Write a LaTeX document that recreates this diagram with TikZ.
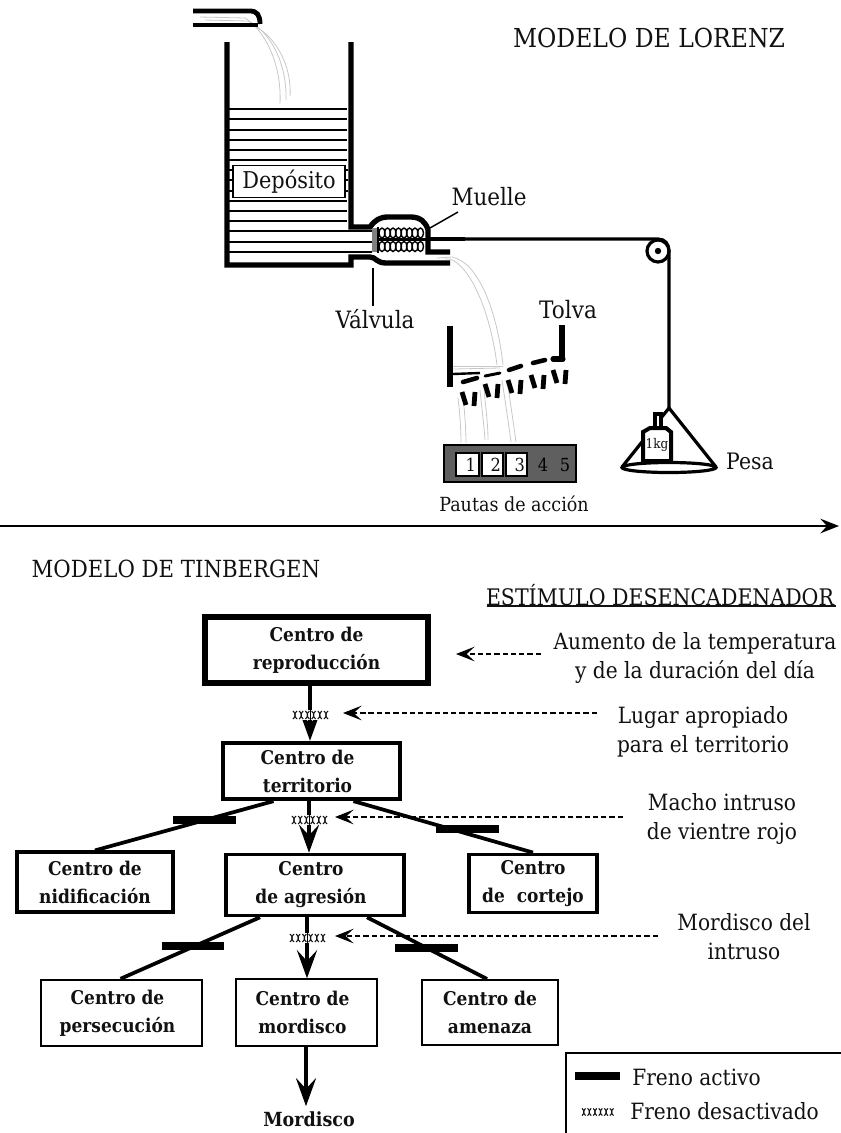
\documentclass[tikz,border=0pt]{standalone}
\usepackage{fontspec}
\setmainfont{DejaVu Serif}[FakeStretch=0.9]
\usetikzlibrary{arrows.meta,calc}
\definecolor{ink}{HTML}{111111}
\definecolor{water}{HTML}{C8C8C8}
\definecolor{panel}{HTML}{5F5F5F}
\newcommand{\shl}{\hspace*{6pt}}
\tikzset{
  tx/.style={font=\fontsize{16.8}{21.75}\selectfont,text=ink,align=center,inner sep=0pt},
  bx/.style={font=\bfseries\fontsize{14.2}{21}\selectfont,text=ink,align=center,inner sep=0pt,draw=black,fill=white},
  lab/.style={font=\bfseries\fontsize{14.6}{21}\selectfont,text=ink,align=center,inner sep=0pt},
  wall/.style={line width=4pt,draw=black},
  pipe/.style={line width=3.6pt,draw=black},
  lev/.style={line width=1.6pt,draw=black},
  flow/.style={line width=0.6pt,draw=water},
  big/.style={line width=3.4pt,draw=black,-{Stealth[length=21pt,width=15pt,inset=8pt]}},
  dashline/.style={line width=1pt,draw=black,dash pattern=on 4pt off 2.2pt,-{Stealth[length=14pt,width=11pt,inset=6pt]}},
  branch/.style={line width=2.8pt,draw=black},
  brake/.style={fill=black,draw=none},
  brakeoff/.pic={
    \foreach \i in {0,1,2,3,4,5}{
      \fill[white] ({\i*6.2-1},-5) rectangle ({\i*6.2+5},5);
      \draw[line width=0.8pt,ink] ({\i*6.2},-4) .. controls ({\i*6.2+4},-1) and ({\i*6.2},1) .. ({\i*6.2+4},4);
      \draw[line width=0.8pt,ink] ({\i*6.2+4},-4) .. controls ({\i*6.2},-1) and ({\i*6.2+4},1) .. ({\i*6.2},4);
    }
  }
}
\begin{document}
\begin{tikzpicture}[x=0.75pt,y=-0.75pt]
\useasboundingbox (0,0) rectangle (840,1133);
% ---- tap and water in
\draw[flow] (200,17) -- (245,18) .. controls (262,28) and (282,60) .. (280,104);
\draw[flow] (205,20) -- (248,21) .. controls (268,30) and (287,60) .. (286,100);
\draw[flow] (250,24) .. controls (272,32) and (292,62) .. (290,96);
\draw[pipe] (193,11) -- (250,11) .. controls (257,11) and (260,15) .. (260,24);
\draw[pipe] (193,25) -- (258,25);
% ---- tank
\foreach \y in {109,119,130,140,150,160,201,211,221}{\draw[lev] (229,\y) -- (347,\y);}
\foreach \y in {231,242,252}{\draw[lev] (229,\y) -- (372,\y);}
\foreach \y in {170,180,191}{\draw[lev] (229,\y) -- (348,\y);}
\draw[wall] (227,42) -- (227,265) -- (351,265) -- (351,257) -- (370,257) .. controls (376,257) and (376,263) .. (386,263) -- (450,263);
\draw[wall] (351,42) -- (351,227) -- (370,227) .. controls (375,220) and (380,217) .. (388,217) -- (411,217) .. controls (420,217) and (426,222) .. (428,230) -- (428,252) -- (450,252);
\node[tx,draw=black,line width=0.8pt,fill=white,minimum width=84pt,minimum height=24pt,font=\fontsize{17.4}{21}\selectfont] (depot) at (289,181.5) {Depósito};
% ---- valve
\fill[gray] (372,228) rectangle (378,252);
\draw[line width=1.2pt,black] (378,227) -- (378,253);
\foreach \x in {382,387.5,393,398.5,404,409.5,415,420.5}{
  \draw[line width=1.05pt,black] (\x,233) ellipse [x radius=3,y radius=5];
  \draw[line width=1.05pt,black] (\x,246.5) ellipse [x radius=3,y radius=5];
}
\draw[line width=2pt,black] (378,239.5) -- (428,239.5);
\coordinate (ropeA) at (428,239);
\coordinate (ropeB) at (465,239);
\coordinate (ropeC) at (658,239);
\coordinate (ropeD) at (669,251);
\coordinate (hook) at (669,408);
\draw[line width=3.6pt,black] (ropeA) -- (ropeB);
\draw[line width=2.4pt,black] (ropeB) -- (ropeC) .. controls (665,239) and (669,244) .. (ropeD) -- (hook);
\draw[line width=2.4pt,black] (658,251) circle [radius=11];
\fill[black] (658,251) circle [radius=3.2];
% ---- labels top
\node[tx,font=\fontsize{19.6}{21}\selectfont] (lorenz) at (649,38) {MODELO DE LORENZ};
\node[tx,font=\fontsize{17.9}{21}\selectfont] (muelle) at (489,197) {Muelle};
\node[tx,font=\fontsize{17.9}{21}\selectfont] (valvula) at (375,319) {Válvula};
\node[tx,font=\fontsize{18}{21}\selectfont] (tolva) at (568,310) {Tolva};
\node[tx,font=\fontsize{17}{21}\selectfont] (pesa) at (750,461) {Pesa};
\node[tx,font=\fontsize{14.6}{21}\selectfont] (pautas) at (514,504) {Pautas de acción};
\coordinate (mtip) at (430,228);
\coordinate (mend) at (458,212);
\draw[line width=1.1pt,black] (mtip) -- (mend);
\coordinate (vtip) at (373,268);
\coordinate (vend) at (373,306);
\draw[line width=1.1pt,black] (vtip) -- (vend);
% ---- second water
\draw[flow] (437,258) -- (452,257) .. controls (478,262) and (497,310) .. (503,365);
\draw[flow] (445,259) -- (450,259) .. controls (470,266) and (490,310) .. (497,365);
\draw[flow] (453,366) -- (503,366);
\draw[flow] (453,369) -- (500,368);
\draw[flow] (502,380) .. controls (505,400) and (508,420) .. (511,442);
\draw[flow] (507,380) .. controls (510,400) and (513,420) .. (516,442);
\draw[flow] (480,390) .. controls (482,410) and (484,425) .. (485,440);
\draw[flow] (484,390) .. controls (486,410) and (488,425) .. (488,440);
\draw[flow] (458,398) .. controls (460,415) and (461,430) .. (461,443);
\draw[flow] (463,398) .. controls (465,415) and (466,430) .. (466,443);
% ---- hopper
\draw[line width=3.8pt,black] (450,326) -- (450,387);
\draw[line width=1.8pt,black] (453,374) -- (480,373);
\draw[line width=3.8pt,black] (562,325) -- (562,361);
\draw[line width=3.8pt,black,line cap=round] (553,359) -- (563,359);
\draw[line width=3.4pt,black,line cap=round] (463,382) -- (477,378);
\draw[line width=2.2pt,black,line cap=round] (485,376) -- (500,373);
\draw[line width=3.4pt,black,line cap=round] (509,370) -- (521,366);
\draw[line width=3.4pt,black,line cap=round] (533,363) -- (545,360);
\foreach \x/\y in {462/392,485/384,508/380,531/375,553/370}{
  \draw[line width=3.6pt,black] (\x,\y) -- (\x+4,\y+13);
  \draw[line width=3.6pt,black] (\x+13,\y) -- (\x+12,\y+14);
}
% ---- action panel
\draw[line width=0.8pt,black,fill=panel] (444,445) rectangle (576,482);
\foreach \a/\b/\n in {456/479/1,482/503/2,506/527/3}{
  \node[tx,draw=black,line width=1.1pt,fill=white,minimum width={(\b-\a)*0.75pt},minimum height=17.25pt,font=\fontsize{13.5}{14}\selectfont] (act\n) at ({(\a+\b)/2},464.5) {\hspace*{5pt}\n};
}
\node[tx,text=black,font=\fontsize{13.5}{14}\selectfont] (act4) at (543,465) {4};
\node[tx,text=black,font=\fontsize{13.5}{14}\selectfont] (act5) at (565,465) {5};
% ---- weight
\coordinate (panL) at (622,467);
\coordinate (panR) at (716,467);
\draw[line width=2.4pt,black,line join=round] (panL) -- (hook) -- (panR);
\draw[line width=2.4pt,black] (669,467.5) ellipse [x radius=47,y radius=5];
\draw[line width=2.4pt,black,fill=white] (655,428) -- (655,414) -- (661,414) -- (661,428) -- cycle;
\draw[line width=3pt,black,fill=white] (643,461) -- (643,432) -- (650,428) -- (666,428) -- (671,432) -- (671,461) -- cycle;
\node[tx,font=\fontsize{10}{11}\selectfont] (kg) at (657,445) {1kg};
% ---- divider
\coordinate (axisL) at (0,526);
\coordinate (axisR) at (839,526);
\draw[line width=1.2pt,black,-{Stealth[length=14pt,width=11pt,inset=5pt]}] (axisL) -- (axisR);
% ---- bottom headings
\node[tx,font=\fontsize{17.7}{21}\selectfont] (tinb) at (176,569) {MODELO DE TINBERGEN};
\node[tx,font=\fontsize{17.1}{21}\selectfont] (estim) at (660,595) {ESTÍMULO DESENCADENADOR};
\coordinate (ulA) at (487,606);
\coordinate (ulB) at (836,606);
\draw[line width=0.9pt,ink] (ulA) -- (ulB);
% ---- right texts
\node[tx] (t1) at (695,657.5) {Aumento de la temperatura\\y de la duración del día};
\node[tx] (t2) at (703,732) {Lugar apropiado\\para el territorio};
\node[tx] (t3) at (722,819) {Macho intruso\\de vientre rojo};
\node[tx] (t4) at (744,937) {Mordisco del\\intruso};
% ---- boxes
\node[bx,line width=4.5pt,minimum width=167pt,minimum height=49pt] (repro) at (316.5,650) {Centro de\\reproducción};
\node[bx,line width=3.2pt,minimum width=133pt,minimum height=42pt] (terr) at (311.5,771) {Centro de\shl\\territorio\shl};
\node[bx,line width=2.4pt,minimum width=117pt,minimum height=45pt] (nid) at (95,882) {Centro de\\nidificación};
\node[bx,line width=2.4pt,minimum width=133.5pt,minimum height=46pt] (agr) at (315,885) {Centro\shl\\de agresión\shl};
\node[bx,line width=2.4pt,minimum width=96pt,minimum height=44pt] (cort) at (533,883.5) {Centro\\de~~cortejo};
\node[bx,line width=1.3pt,minimum width=120.5pt,minimum height=50pt] (pers) at (121.5,1013) {Centro de\shl\\persecución\shl};
\node[bx,line width=1.3pt,minimum width=106pt,minimum height=50pt] (mord) at (306.5,1012.5) {Centro de\shl\\mordisco\shl};
\node[bx,line width=1.3pt,minimum width=102pt,minimum height=49pt] (amen) at (490,1012.5) {Centro de\\amenaza};
\node[lab] (final) at (309,1119) {Mordisco};
% ---- branches
\draw[branch] ($(terr.south)+(-38,0)$) -- (nid.north);
\draw[branch] ($(terr.south)+(42,0)$) -- (cort.north);
\draw[branch] ($(agr.south)+(-55,0)$) -- ($(pers.north)+(-1,0)$);
\draw[branch] ($(agr.south)+(52,0)$) -- ($(amen.north)+(-3,0)$);
\fill[brake] (173,816) rectangle (236,824);
\fill[brake] (436,825) rectangle (499,833);
\fill[brake] (162,942) rectangle (224,950);
\fill[brake] (395,944) rectangle (458,952);
% ---- arrows
\draw[big] ($(repro.south)+(-6.5,0)$) -- ($(terr.north)+(-1.5,0)$);
\draw[big] ($(terr.south)+(-2.5,0)$) -- ($(agr.north)+(-6,0)$);
\draw[big] ($(agr.south)+(-8,0)$) -- ($(mord.north)+(0.5,0)$);
\draw[big] ($(mord.south)+(-0.5,0)$) -- ($(final.north)+(-3,-5)$);
\pic at (293,715) {brakeoff};
\pic at (292,820) {brakeoff};
\pic at (290,938) {brakeoff};
% ---- dashed arrows
\coordinate (d1a) at (541,654); \coordinate (d1b) at (456,654);
\coordinate (d2a) at (597,713); \coordinate (d2b) at (343,713);
\coordinate (d3a) at (623,817); \coordinate (d3b) at (335,817);
\coordinate (d4a) at (658,936); \coordinate (d4b) at (335,936);
\draw[dashline] (d1a) -- (d1b);
\draw[dashline] (d2a) -- (d2b);
\draw[dashline] (d3a) -- (d3b);
\draw[dashline] (d4a) -- (d4b);
% ---- legend
\coordinate (lgA) at (566,1140);
\coordinate (lgB) at (566,1053);
\coordinate (lgC) at (846,1053);
\draw[line width=1.1pt,black] (lgA) -- (lgB) -- (lgC);
\fill[brake] (575,1072) rectangle (620,1080);
\pic[scale=0.9] at (582,1112) {brakeoff};
\node[tx,anchor=west] (leg1) at (632,1077) {Freno activo};
\node[tx,anchor=west] (leg2) at (630,1111) {Freno desactivado};
\end{tikzpicture}
\end{document}
